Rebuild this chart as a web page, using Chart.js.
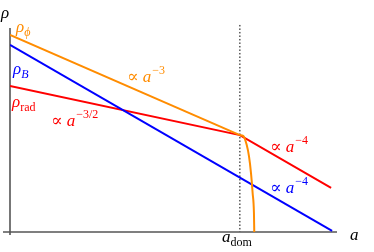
<!DOCTYPE html>
<html lang="en">
<head>
    <meta charset="UTF-8">
    <title>Energy densities vs scale factor</title>
    <script src="https://cdn.jsdelivr.net/npm/chart.js"></script>
    <style>
        body { margin: 0; padding: 0; background: #fff; }
        .container { width: 374px; height: 252px; }
    </style>
</head>
<body>
    <div class="container">
        <canvas id="rhoChart" width="374" height="252"></canvas>
    </div>

    <script>
        // values (arbitrary log units, a on x, rho on y)
        const phiA     = [0, 7.03];
        const phiRho   = [9.66, 4.75];
        const phiEndA   = [7.03, 7.13, 7.24, 7.31, 7.37, 7.42, 7.46, 7.47];
        const phiEndRho = [4.75, 4.71, 4.26, 3.69, 2.89, 1.91, 0.93, 0];
        const bA     = [0, 9.85];
        const bRho   = [9.17, 0.05];
        const radA   = [0, 7.03, 9.82];
        const radRho = [7.16, 4.75, 2.16];
        const aDom = 7.03;

        const ORANGE = '#ff8c00', BLUE = '#0000ff', RED = '#ff0000';

        const pts = (xs, ys) => xs.map((x, i) => ({ x: x, y: ys[i] }));

        // little helper for text with sub/superscripts
        function drawMath(ctx, x, y, parts, color) {
            ctx.fillStyle = color;
            ctx.textBaseline = 'alphabetic';
            ctx.textAlign = 'left';
            parts.forEach(p => {
                const size = p.pos ? 12 : 17;
                const style = p.i ? 'italic ' : '';
                ctx.font = style + size + 'px "Liberation Serif", "DejaVu Serif", serif';
                let dy = 0;
                if (p.pos === 'sub') dy = 4;
                if (p.pos === 'sup') dy = -8;
                ctx.fillText(p.t, x + (p.dx || 0), y + dy);
                x += ctx.measureText(p.t).width + (p.dx || 0);
            });
        }

        const prop = (exp) => [
            { t: '\u221D ' },
            { t: 'a', i: true },
            { t: exp, pos: 'sup', dx: 1 }
        ];

        const decorations = {
            id: 'decorations',
            beforeDatasetsDraw(chart) {
                const ctx = chart.ctx;
                const xs = chart.scales.x, ys = chart.scales.y;
                const x0 = xs.getPixelForValue(0), y0 = ys.getPixelForValue(0);
                ctx.save();
                // dotted a_dom marker
                const xd = xs.getPixelForValue(aDom);
                ctx.strokeStyle = '#000';
                ctx.lineWidth = 1;
                ctx.setLineDash([1.5, 2]);
                ctx.beginPath();
                ctx.moveTo(xd, ys.getPixelForValue(10.15));
                ctx.lineTo(xd, y0);
                ctx.stroke();
                ctx.setLineDash([]);
                // axes
                ctx.strokeStyle = '#555';
                ctx.lineWidth = 1.6;
                ctx.beginPath();
                ctx.moveTo(x0, ys.getPixelForValue(10));
                ctx.lineTo(x0, y0 + 3);
                ctx.moveTo(x0 - 7, y0);
                ctx.lineTo(xs.getPixelForValue(10), y0);
                ctx.stroke();
                ctx.restore();
            },
            afterDatasetsDraw(chart) {
                const ctx = chart.ctx;
                ctx.save();
                drawMath(ctx, 1, 18, [{ t: '\u03C1', i: true }], '#000');
                drawMath(ctx, 350, 240, [{ t: 'a', i: true }], '#000');
                drawMath(ctx, 222, 242, [{ t: 'a', i: true }, { t: 'dom', pos: 'sub' }], '#000');
                drawMath(ctx, 16, 32, [{ t: '\u03C1', i: true }, { t: '\u03D5', i: true, pos: 'sub' }], ORANGE);
                drawMath(ctx, 13, 74, [{ t: '\u03C1', i: true }, { t: 'B', i: true, pos: 'sub' }], BLUE);
                drawMath(ctx, 12, 107, [{ t: '\u03C1', i: true }, { t: 'rad', pos: 'sub' }], RED);
                drawMath(ctx, 127, 82, prop('\u22123'), ORANGE);
                drawMath(ctx, 51, 126, prop('\u22123/2'), RED);
                drawMath(ctx, 270, 152, prop('\u22124'), RED);
                drawMath(ctx, 270, 193, prop('\u22124'), BLUE);
                ctx.restore();
            }
        };

        const line = (data, color, extra) => Object.assign({
            data: data,
            borderColor: color,
            borderWidth: 2,
            showLine: true,
            pointRadius: 0
        }, extra || {});

        const ctx = document.getElementById('rhoChart').getContext('2d');
        new Chart(ctx, {
            type: 'scatter',
            data: {
                datasets: [
                    line(pts(phiA, phiRho), ORANGE, { label: 'rho_phi' }),
                    line(pts(phiEndA, phiEndRho), ORANGE, { label: 'rho_phi decay', cubicInterpolationMode: 'monotone' }),
                    line(pts(bA, bRho), BLUE, { label: 'rho_B' }),
                    line(pts(radA, radRho), RED, { label: 'rho_rad' })
                ]
            },
            options: {
                responsive: false,
                animation: false,
                events: [],
                layout: { padding: { left: 10, right: 37, top: 28, bottom: 20 } },
                plugins: { legend: { display: false }, tooltip: { enabled: false } },
                scales: {
                    x: { type: 'linear', min: 0, max: 10, display: false },
                    y: { type: 'linear', min: 0, max: 10, display: false }
                }
            },
            plugins: [decorations]
        });
    </script>
</body>
</html>
